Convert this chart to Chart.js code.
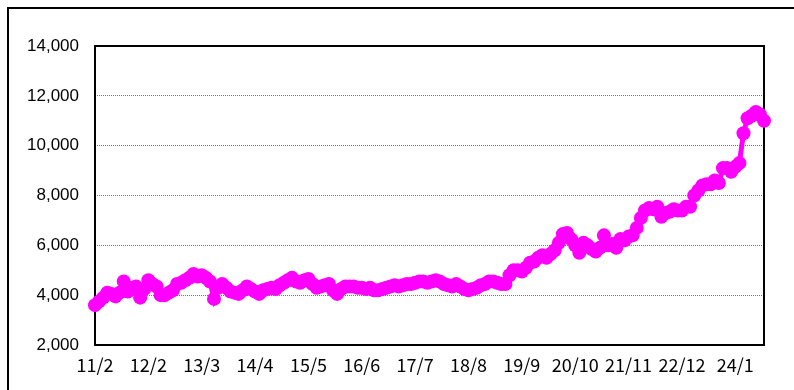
<!DOCTYPE html>
<html>
<head>
<meta charset="utf-8">
<script src="https://cdn.jsdelivr.net/npm/chart.js@4.4.1/dist/chart.umd.min.js"></script>
<style>
  html, body { margin: 0; padding: 0; background: #fff; overflow: hidden; }
  #frame { position: absolute; left: 7px; top: 7px; width: 900px; height: 500px; border: 2px solid #000; }
  #wrap { position: absolute; left: 0; top: 0; width: 794px; height: 390px; }
</style>
</head>
<body>
<div id="frame"></div>
<div id="wrap"><canvas id="chart"></canvas></div>
<script>
// monthly series, first month 11/2
const startYear = 2011;
const startMonth = 2;

const values = [
  3600, 3750, 3900, 4100, 4050, 3950, 4100, 4550, 4150, 4300,
  4350, 3900, 4250, 4600, 4450, 4350, 4000, 4000, 4100, 4200,
  4450, 4500, 4600, 4700, 4850, 4750, 4800, 4700, 4550, 3850,
  4300, 4450, 4300, 4150, 4100, 4050, 4200, 4350, 4250, 4150,
  4050, 4200, 4250, 4300, 4250, 4400, 4500, 4600, 4700, 4550,
  4500, 4600, 4650, 4450, 4300, 4350, 4400, 4450, 4200, 4050,
  4250, 4350, 4350, 4350, 4300, 4300, 4250, 4300, 4200, 4200,
  4250, 4300, 4350, 4400, 4350, 4400, 4450, 4450, 4500, 4550,
  4550, 4500, 4550, 4600, 4550, 4450, 4400, 4350, 4450, 4350,
  4250, 4200, 4250, 4300, 4400, 4450, 4550, 4550, 4500, 4450,
  4450, 4800, 5000, 5000, 4950, 5100, 5300, 5350, 5500, 5600,
  5500, 5650, 5800, 6100, 6450, 6500, 6250, 6000, 5700, 6100,
  6000, 5850, 5750, 5900, 6400, 6000, 6050, 5900, 6250, 6200,
  6350, 6400, 6700, 7100, 7400, 7500, 7450, 7550, 7150, 7300,
  7350, 7450, 7400, 7400, 7550, 7550, 8000, 8200, 8400, 8450,
  8450, 8600, 8500, 9100, 9100, 8950, 9150, 9300, 10500, 11100,
  11200, 11350, 11250, 11000
];

// one label every 13 months
const tickLabels = ['11/2', '12/2', '13/3', '14/4', '15/5', '16/6', '17/7',
                    '18/8', '19/9', '20/10', '21/11', '22/12', '24/1'];
const tickStep = 13;

const yTicks = [2000, 4000, 6000, 8000, 10000, 12000, 14000];

const months = values.map((v, i) => {
  const m = startMonth - 1 + i;
  const y = startYear + Math.floor(m / 12);
  return String(y).slice(2) + '/' + (m % 12 + 1);
});

// box around the plot area
const plotFrame = {
  id: 'plotFrame',
  beforeDatasetsDraw(chart) {
    const a = chart.chartArea;
    const ctx = chart.ctx;
    ctx.save();
    ctx.strokeStyle = '#000';
    ctx.lineWidth = 2;
    ctx.strokeRect(a.left, a.top, a.right - a.left, a.bottom - a.top);
    ctx.restore();
  }
};

new Chart(document.getElementById('chart').getContext('2d'), {
  type: 'line',
  data: {
    labels: months,
    datasets: [{
      data: values,
      borderColor: '#ff00ff',
      backgroundColor: '#ff00ff',
      borderWidth: 5,
      pointRadius: 7,
      pointBorderWidth: 0,
      pointBackgroundColor: '#ff00ff',
      tension: 0
    }]
  },
  options: {
    responsive: true,
    maintainAspectRatio: false,
    animation: false,
    layout: { padding: { top: 46, right: 30, left: 0, bottom: 0 } },
    plugins: {
      legend: { display: false },
      tooltip: { enabled: false }
    },
    scales: {
      x: {
        offset: false,
        grid: { display: false, drawTicks: false },
        border: { display: false },
        afterFit(scale) { scale.height = 45; },
        ticks: {
          autoSkip: false,
          maxRotation: 0,
          padding: 9,
          color: '#000',
          font: { family: '"Noto Sans CJK JP", "Liberation Sans", sans-serif', size: 18 },
          callback: (val, i) => (i % tickStep === 0 ? tickLabels[i / tickStep] : null)
        }
      },
      y: {
        min: yTicks[0],
        max: yTicks[yTicks.length - 1],
        afterFit(scale) { scale.width = 95; },
        afterBuildTicks(scale) { scale.ticks = yTicks.map(v => ({ value: v })); },
        grid: { color: '#777', lineWidth: 1, drawTicks: false },
        border: { display: false, dash: [1, 1] },
        ticks: {
          padding: 16,
          color: '#000',
          font: { family: '"Liberation Sans", Arial, sans-serif', size: 17 },
          callback: v => v.toLocaleString('en-US')
        }
      }
    }
  },
  plugins: [plotFrame]
});
</script>
</body>
</html>
